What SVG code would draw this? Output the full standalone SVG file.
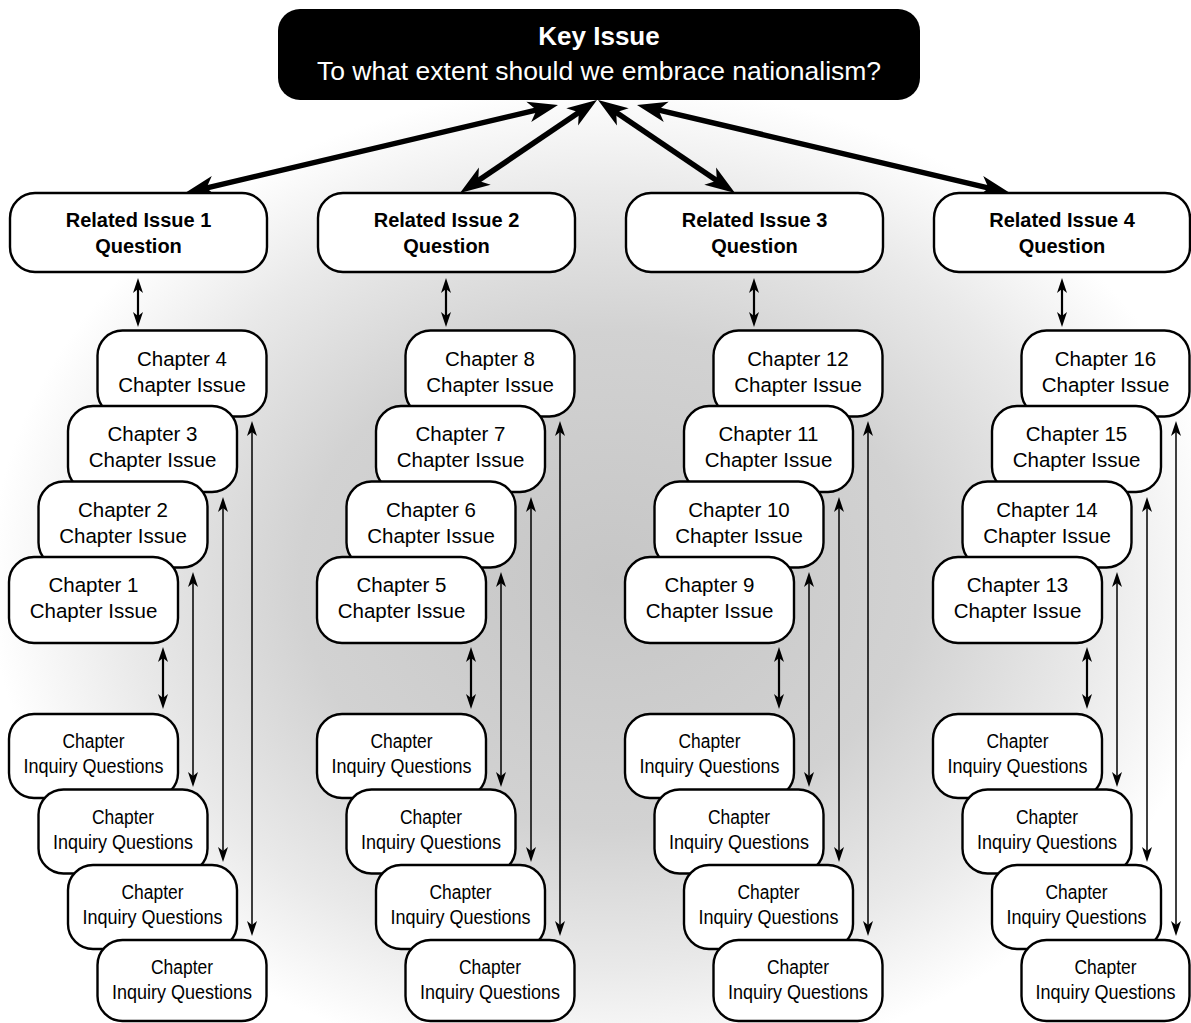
<svg xmlns="http://www.w3.org/2000/svg" width="1191" height="1023" viewBox="0 0 1191 1023">
<defs>
<radialGradient id="bg" gradientUnits="userSpaceOnUse" cx="610" cy="580" r="620" gradientTransform="translate(610 580) scale(1 0.8) translate(-610 -580)">
<stop offset="0" stop-color="#c6c6c6"/>
<stop offset="0.5" stop-color="#d2d2d2"/>
<stop offset="0.78" stop-color="#e9e9e9"/>
<stop offset="1" stop-color="#ffffff"/>
</radialGradient>
<marker id="big" markerUnits="userSpaceOnUse" viewBox="-31 -11 32 22" markerWidth="32" markerHeight="22" refX="-15" refY="0" orient="auto-start-reverse"><path d="M0,0 L-30,-10.5 L-22,0 L-30,10.5 Z" fill="#000"/></marker>
<marker id="sm" markerUnits="userSpaceOnUse" viewBox="-16 -6 17 12" markerWidth="17" markerHeight="12" refX="-7" refY="0" orient="auto-start-reverse"><path d="M0,0 L-15,-5 L-11,0 L-15,5 Z" fill="#000"/></marker>
</defs>
<style>
.box{fill:#fff;stroke:#000;stroke-width:2.4}
.t{font-family:"Liberation Sans",Arial,sans-serif;font-size:20.5px;text-anchor:middle;fill:#000}
.b{font-weight:bold;font-size:20px}
.q{font-size:19.5px}
.big{fill:none;stroke:#000;stroke-width:5.5;marker-start:url(#big);marker-end:url(#big)}
.mid{fill:none;stroke:#000;stroke-width:2.2;marker-start:url(#sm);marker-end:url(#sm)}
.thin{fill:none;stroke:#000;stroke-width:1.5;marker-start:url(#sm);marker-end:url(#sm)}
</style>
<rect width="1191" height="1023" fill="url(#bg)"/>

<g id="connectors">
<path class="big" d="M199.6,189.6 L543.4,108.4"/>
<path class="big" d="M472.4,184.6 L584.6,108.4"/>
<path class="big" d="M722.6,184.6 L610.4,108.4"/>
<path class="big" d="M995.4,189.6 L651.6,108.4"/>
<path class="mid" d="M138,285 V320"/>
<path class="mid" d="M446,285 V320"/>
<path class="mid" d="M754,285 V320"/>
<path class="mid" d="M1062,285 V320"/>
<path class="mid" d="M163,654 V702"/>
<path class="mid" d="M471,654 V702"/>
<path class="mid" d="M779,654 V702"/>
<path class="mid" d="M1087,654 V702"/>
<path class="thin" d="M193,579 V780"/>
<path class="thin" d="M501,579 V780"/>
<path class="thin" d="M809,579 V780"/>
<path class="thin" d="M1117,579 V780"/>
<path class="thin" d="M223,504 V855"/>
<path class="thin" d="M531,504 V855"/>
<path class="thin" d="M839,504 V855"/>
<path class="thin" d="M1147,504 V855"/>
<path class="thin" d="M252,428 V929"/>
<path class="thin" d="M560,428 V929"/>
<path class="thin" d="M868,428 V929"/>
<path class="thin" d="M1176,428 V929"/>
</g>

<g id="key">
<rect x="278" y="9" width="642" height="91" rx="22" fill="#000"/>
<text class="t" x="599" y="45" style="font-weight:bold;font-size:26px;fill:#fff">Key Issue</text>
<text class="t" x="599" y="80" style="font-size:26.5px;fill:#fff">To what extent should we embrace nationalism?</text>
</g>

<g id="ri1" transform="translate(10 193)"><rect class="box" width="257" height="79" rx="25"/><text class="t b" x="128.5" y="34">Related Issue 1</text><text class="t b" x="128.5" y="60">Question</text></g>
<g id="ri2" transform="translate(318 193)"><rect class="box" width="257" height="79" rx="25"/><text class="t b" x="128.5" y="34">Related Issue 2</text><text class="t b" x="128.5" y="60">Question</text></g>
<g id="ri3" transform="translate(626 193)"><rect class="box" width="257" height="79" rx="25"/><text class="t b" x="128.5" y="34">Related Issue 3</text><text class="t b" x="128.5" y="60">Question</text></g>
<g id="ri4" transform="translate(934 193)"><rect class="box" width="256" height="79" rx="25"/><text class="t b" x="128" y="34">Related Issue 4</text><text class="t b" x="128" y="60">Question</text></g>

<!-- column 1 chapters -->
<g id="ch4" transform="translate(97.5 330.5)"><rect class="box" width="169" height="86" rx="25"/><text class="t" x="84.5" y="35">Chapter 4</text><text class="t" x="84.5" y="61">Chapter Issue</text></g>
<g id="ch3" transform="translate(68 406)"><rect class="box" width="169" height="86" rx="25"/><text class="t" x="84.5" y="35">Chapter 3</text><text class="t" x="84.5" y="61">Chapter Issue</text></g>
<g id="ch2" transform="translate(38.5 481.5)"><rect class="box" width="169" height="86" rx="25"/><text class="t" x="84.5" y="35">Chapter 2</text><text class="t" x="84.5" y="61">Chapter Issue</text></g>
<g id="ch1" transform="translate(9 557)"><rect class="box" width="169" height="86" rx="25"/><text class="t" x="84.5" y="35">Chapter 1</text><text class="t" x="84.5" y="61">Chapter Issue</text></g>
<!-- column 2 chapters -->
<g id="ch8" transform="translate(405.5 330.5)"><rect class="box" width="169" height="86" rx="25"/><text class="t" x="84.5" y="35">Chapter 8</text><text class="t" x="84.5" y="61">Chapter Issue</text></g>
<g id="ch7" transform="translate(376 406)"><rect class="box" width="169" height="86" rx="25"/><text class="t" x="84.5" y="35">Chapter 7</text><text class="t" x="84.5" y="61">Chapter Issue</text></g>
<g id="ch6" transform="translate(346.5 481.5)"><rect class="box" width="169" height="86" rx="25"/><text class="t" x="84.5" y="35">Chapter 6</text><text class="t" x="84.5" y="61">Chapter Issue</text></g>
<g id="ch5" transform="translate(317 557)"><rect class="box" width="169" height="86" rx="25"/><text class="t" x="84.5" y="35">Chapter 5</text><text class="t" x="84.5" y="61">Chapter Issue</text></g>
<!-- column 3 chapters -->
<g id="ch12" transform="translate(713.5 330.5)"><rect class="box" width="169" height="86" rx="25"/><text class="t" x="84.5" y="35">Chapter 12</text><text class="t" x="84.5" y="61">Chapter Issue</text></g>
<g id="ch11" transform="translate(684 406)"><rect class="box" width="169" height="86" rx="25"/><text class="t" x="84.5" y="35">Chapter 11</text><text class="t" x="84.5" y="61">Chapter Issue</text></g>
<g id="ch10" transform="translate(654.5 481.5)"><rect class="box" width="169" height="86" rx="25"/><text class="t" x="84.5" y="35">Chapter 10</text><text class="t" x="84.5" y="61">Chapter Issue</text></g>
<g id="ch9" transform="translate(625 557)"><rect class="box" width="169" height="86" rx="25"/><text class="t" x="84.5" y="35">Chapter 9</text><text class="t" x="84.5" y="61">Chapter Issue</text></g>
<!-- column 4 chapters -->
<g id="ch16" transform="translate(1021.5 330.5)"><rect class="box" width="168" height="86" rx="25"/><text class="t" x="84" y="35">Chapter 16</text><text class="t" x="84" y="61">Chapter Issue</text></g>
<g id="ch15" transform="translate(992 406)"><rect class="box" width="169" height="86" rx="25"/><text class="t" x="84.5" y="35">Chapter 15</text><text class="t" x="84.5" y="61">Chapter Issue</text></g>
<g id="ch14" transform="translate(962.5 481.5)"><rect class="box" width="169" height="86" rx="25"/><text class="t" x="84.5" y="35">Chapter 14</text><text class="t" x="84.5" y="61">Chapter Issue</text></g>
<g id="ch13" transform="translate(933 557)"><rect class="box" width="169" height="86" rx="25"/><text class="t" x="84.5" y="35">Chapter 13</text><text class="t" x="84.5" y="61">Chapter Issue</text></g>

<!-- inquiry boxes -->
<g id="iq1a" transform="translate(9 714)"><rect class="box" width="169" height="84" rx="25"/><text class="t q" x="84.5" y="34" textLength="62" lengthAdjust="spacingAndGlyphs">Chapter</text><text class="t q" x="84.5" y="59" textLength="140" lengthAdjust="spacingAndGlyphs">Inquiry Questions</text></g>
<g id="iq1b" transform="translate(38.5 789.5)"><rect class="box" width="169" height="84" rx="25"/><text class="t q" x="84.5" y="34" textLength="62" lengthAdjust="spacingAndGlyphs">Chapter</text><text class="t q" x="84.5" y="59" textLength="140" lengthAdjust="spacingAndGlyphs">Inquiry Questions</text></g>
<g id="iq1c" transform="translate(68 865)"><rect class="box" width="169" height="84" rx="25"/><text class="t q" x="84.5" y="34" textLength="62" lengthAdjust="spacingAndGlyphs">Chapter</text><text class="t q" x="84.5" y="59" textLength="140" lengthAdjust="spacingAndGlyphs">Inquiry Questions</text></g>
<g id="iq1d" transform="translate(97.5 940)"><rect class="box" width="169" height="81" rx="25"/><text class="t q" x="84.5" y="34" textLength="62" lengthAdjust="spacingAndGlyphs">Chapter</text><text class="t q" x="84.5" y="59" textLength="140" lengthAdjust="spacingAndGlyphs">Inquiry Questions</text></g>

<g id="iq2a" transform="translate(317 714)"><rect class="box" width="169" height="84" rx="25"/><text class="t q" x="84.5" y="34" textLength="62" lengthAdjust="spacingAndGlyphs">Chapter</text><text class="t q" x="84.5" y="59" textLength="140" lengthAdjust="spacingAndGlyphs">Inquiry Questions</text></g>
<g id="iq2b" transform="translate(346.5 789.5)"><rect class="box" width="169" height="84" rx="25"/><text class="t q" x="84.5" y="34" textLength="62" lengthAdjust="spacingAndGlyphs">Chapter</text><text class="t q" x="84.5" y="59" textLength="140" lengthAdjust="spacingAndGlyphs">Inquiry Questions</text></g>
<g id="iq2c" transform="translate(376 865)"><rect class="box" width="169" height="84" rx="25"/><text class="t q" x="84.5" y="34" textLength="62" lengthAdjust="spacingAndGlyphs">Chapter</text><text class="t q" x="84.5" y="59" textLength="140" lengthAdjust="spacingAndGlyphs">Inquiry Questions</text></g>
<g id="iq2d" transform="translate(405.5 940)"><rect class="box" width="169" height="81" rx="25"/><text class="t q" x="84.5" y="34" textLength="62" lengthAdjust="spacingAndGlyphs">Chapter</text><text class="t q" x="84.5" y="59" textLength="140" lengthAdjust="spacingAndGlyphs">Inquiry Questions</text></g>

<g id="iq3a" transform="translate(625 714)"><rect class="box" width="169" height="84" rx="25"/><text class="t q" x="84.5" y="34" textLength="62" lengthAdjust="spacingAndGlyphs">Chapter</text><text class="t q" x="84.5" y="59" textLength="140" lengthAdjust="spacingAndGlyphs">Inquiry Questions</text></g>
<g id="iq3b" transform="translate(654.5 789.5)"><rect class="box" width="169" height="84" rx="25"/><text class="t q" x="84.5" y="34" textLength="62" lengthAdjust="spacingAndGlyphs">Chapter</text><text class="t q" x="84.5" y="59" textLength="140" lengthAdjust="spacingAndGlyphs">Inquiry Questions</text></g>
<g id="iq3c" transform="translate(684 865)"><rect class="box" width="169" height="84" rx="25"/><text class="t q" x="84.5" y="34" textLength="62" lengthAdjust="spacingAndGlyphs">Chapter</text><text class="t q" x="84.5" y="59" textLength="140" lengthAdjust="spacingAndGlyphs">Inquiry Questions</text></g>
<g id="iq3d" transform="translate(713.5 940)"><rect class="box" width="169" height="81" rx="25"/><text class="t q" x="84.5" y="34" textLength="62" lengthAdjust="spacingAndGlyphs">Chapter</text><text class="t q" x="84.5" y="59" textLength="140" lengthAdjust="spacingAndGlyphs">Inquiry Questions</text></g>

<g id="iq4a" transform="translate(933 714)"><rect class="box" width="169" height="84" rx="25"/><text class="t q" x="84.5" y="34" textLength="62" lengthAdjust="spacingAndGlyphs">Chapter</text><text class="t q" x="84.5" y="59" textLength="140" lengthAdjust="spacingAndGlyphs">Inquiry Questions</text></g>
<g id="iq4b" transform="translate(962.5 789.5)"><rect class="box" width="169" height="84" rx="25"/><text class="t q" x="84.5" y="34" textLength="62" lengthAdjust="spacingAndGlyphs">Chapter</text><text class="t q" x="84.5" y="59" textLength="140" lengthAdjust="spacingAndGlyphs">Inquiry Questions</text></g>
<g id="iq4c" transform="translate(992 865)"><rect class="box" width="169" height="84" rx="25"/><text class="t q" x="84.5" y="34" textLength="62" lengthAdjust="spacingAndGlyphs">Chapter</text><text class="t q" x="84.5" y="59" textLength="140" lengthAdjust="spacingAndGlyphs">Inquiry Questions</text></g>
<g id="iq4d" transform="translate(1021.5 940)"><rect class="box" width="168" height="81" rx="25"/><text class="t q" x="84" y="34" textLength="62" lengthAdjust="spacingAndGlyphs">Chapter</text><text class="t q" x="84" y="59" textLength="140" lengthAdjust="spacingAndGlyphs">Inquiry Questions</text></g>
</svg>
